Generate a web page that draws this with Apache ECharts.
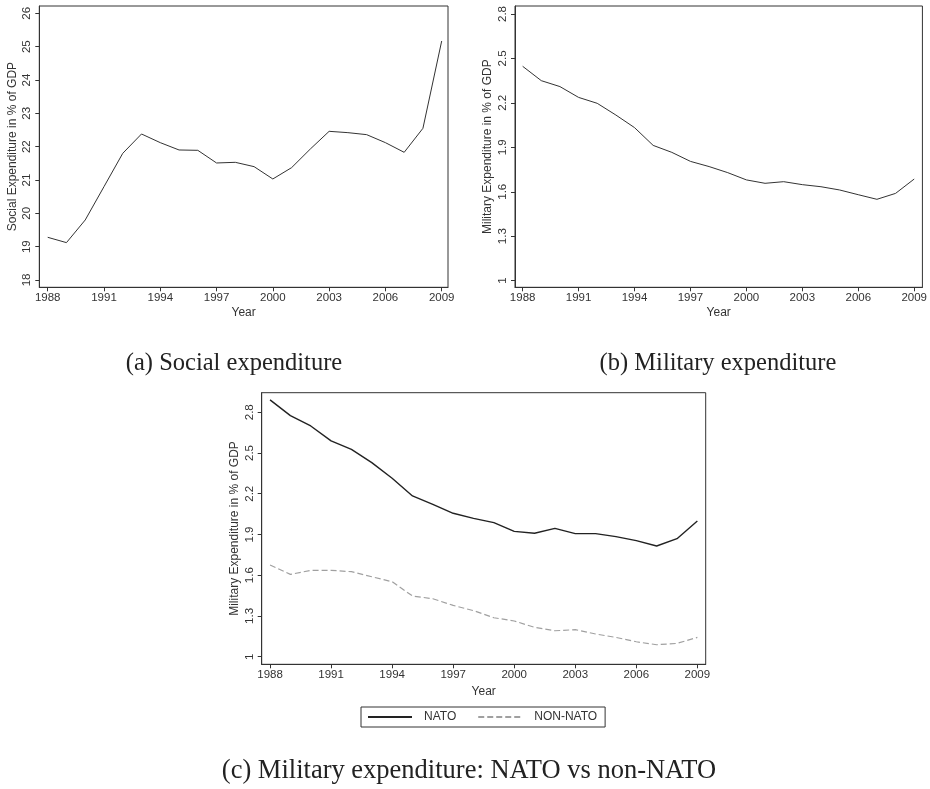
<!DOCTYPE html>
<html>
<head>
<meta charset="utf-8">
<script src="https://cdn.jsdelivr.net/npm/echarts@6/dist/echarts.min.js"></script>
<style>
html,body{margin:0;padding:0;background:#fff;}
#chart{width:930px;height:789px;}
</style>
</head>
<body>
<div id="chart"></div>
<script>
// ---- data ----
const years = [1988,1989,1990,1991,1992,1993,1994,1995,1996,1997,1998,1999,2000,2001,2002,2003,2004,2005,2006,2007,2008,2009];
const socialExp = [19.28,19.12,19.80,20.80,21.80,22.38,22.12,21.90,21.89,21.51,21.53,21.40,21.03,21.37,21.93,22.46,22.42,22.36,22.12,21.83,22.55,25.17];
const militaryExp = [2.447,2.350,2.310,2.237,2.197,2.118,2.033,1.913,1.866,1.805,1.770,1.729,1.680,1.657,1.668,1.648,1.634,1.612,1.580,1.549,1.589,1.686];
const natoExp = [2.891,2.775,2.699,2.589,2.527,2.429,2.314,2.184,2.122,2.056,2.019,1.987,1.923,1.909,1.945,1.906,1.906,1.884,1.855,1.815,1.869,1.999];
const nonNatoExp = [1.675,1.606,1.636,1.636,1.626,1.589,1.552,1.447,1.427,1.378,1.339,1.287,1.263,1.216,1.191,1.199,1.167,1.142,1.110,1.088,1.098,1.142];
const xTicks = [1988,1991,1994,1997,2000,2003,2006,2009];
const yTicksSocial = [18,19,20,21,22,23,24,25,26];
const yTicksMil = [1,1.3,1.6,1.9,2.2,2.5,2.8];
const captions = ['(a) Social expenditure','(b) Military expenditure','(c) Military expenditure: NATO vs non-NATO'];
const seriesNames = ['NATO','NON-NATO'];

const pairs = (vals) => years.map((y,i)=>[y, vals[i]]);

const INK = '#333';
const sans = 'Liberation Sans';
const serif = 'Liberation Serif';
const capStyle = {fontFamily:serif, fontSize:24.5, fontWeight:'normal', color:'#222'};
const capStyleC = {fontFamily:serif, fontSize:26.5, fontWeight:'normal', color:'#222'};

function xAx(gi, min, max, nameGap){
  return {
    type:'value', gridIndex:gi, min:min, max:max,
    name:'Year', nameLocation:'middle', nameGap:nameGap,
    nameTextStyle:{fontFamily:sans, fontSize:12, color:INK},
    splitLine:{show:false},
    axisLine:{show:true, lineStyle:{color:INK, width:1}},
    axisTick:{show:true, length:4, customValues:xTicks, lineStyle:{color:INK}},
    axisLabel:{customValues:xTicks, margin:5, fontFamily:sans, fontSize:11.5, color:INK, formatter:(v)=>String(Math.round(v))}
  };
}
function yAx(gi, min, max, ticks, name){
  return {
    type:'value', gridIndex:gi, min:min, max:max,
    name:name, nameLocation:'middle', nameGap:21, nameRotate:90,
    nameTextStyle:{fontFamily:sans, fontSize:12, color:INK},
    splitLine:{show:false},
    axisLine:{show:true, lineStyle:{color:INK, width:1}},
    axisTick:{show:true, length:4, customValues:ticks, lineStyle:{color:INK}},
    axisLabel:{customValues:ticks, rotate:90, margin:6, fontFamily:sans, fontSize:11.5, color:INK, formatter:(v)=>String(Math.round(v*10)/10)}
  };
}

const option = {
  animation:false,
  backgroundColor:'#fff',
  title:[
    {text:captions[0], left:229, top:346, textAlign:'center', textStyle:capStyle},
    {text:captions[1], left:713, top:346, textAlign:'center', textStyle:capStyle},
    {text:captions[2], left:464, top:753, textAlign:'center', textStyle:capStyleC}
  ],
  grid:[
    {left:39.3, top:6, width:408.7, height:281.3, show:true, borderColor:INK, borderWidth:1, containLabel:false},
    {left:515, top:6, width:410, height:281.3, show:true, borderColor:INK, borderWidth:1, containLabel:false},
    {left:261.7, top:392.7, width:444, height:271.6, show:true, borderColor:INK, borderWidth:1, containLabel:false}
  ],
  xAxis:[
    xAx(0, 1987.552, 2009.336, 19),
    xAx(1, 1987.59, 2009.44, 19),
    xAx(2, 1987.59, 2009.41, 21)
  ],
  yAxis:[
    yAx(0, 17.78, 26.22, yTicksSocial, 'Social Expenditure in % of GDP'),
    yAx(1, 0.955, 2.854, yTicksMil, 'Military Expenditure in % of GDP'),
    yAx(2, 0.944, 2.944, yTicksMil, 'Military Expenditure in % of GDP')
  ],
  legend:{
    show:true, left:361, top:707, orient:'horizontal',
    padding:[4,8,4,6], itemGap:21, itemWidth:44, itemHeight:12,
    borderColor:INK, borderWidth:1, borderRadius:0,
    itemStyle:{opacity:0},
    textStyle:{fontFamily:sans, fontSize:12, color:INK, padding:[0,0,0,7]},
    data:seriesNames
  },
  series:[
    {type:'line', name:'social', xAxisIndex:0, yAxisIndex:0, data:pairs(socialExp), symbol:'none', lineStyle:{color:INK, width:1}, itemStyle:{color:INK}},
    {type:'line', name:'military', xAxisIndex:1, yAxisIndex:1, data:pairs(militaryExp), symbol:'none', lineStyle:{color:INK, width:1}, itemStyle:{color:INK}},
    {type:'line', name:seriesNames[0], xAxisIndex:2, yAxisIndex:2, data:pairs(natoExp), symbol:'none', lineStyle:{color:'#222', width:1.4}, itemStyle:{color:'#222'}},
    {type:'line', name:seriesNames[1], xAxisIndex:2, yAxisIndex:2, data:pairs(nonNatoExp), symbol:'none', lineStyle:{color:'#a0a0a0', width:1.2, type:[6,3]}, itemStyle:{color:'#a0a0a0'}}
  ]
};
const chart = echarts.init(document.getElementById('chart'), null, {renderer:'canvas'});
chart.setOption(option);
</script>
</body>
</html>
